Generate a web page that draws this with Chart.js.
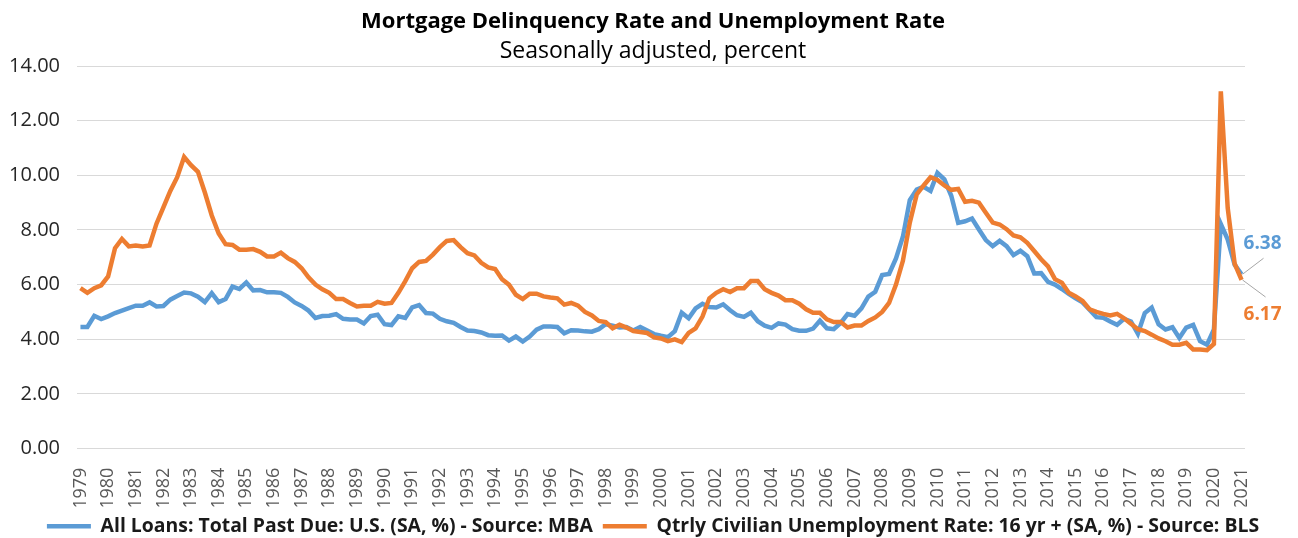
<!DOCTYPE html>
<html>
<head>
<meta charset="utf-8">
<script src="https://cdn.jsdelivr.net/npm/chart.js@4"></script>
<style>
  html, body { margin: 0; padding: 0; background: #fff; }
</style>
</head>
<body>
<canvas id="wykres" width="1298" height="538"></canvas>
<script>
const years = Array.from({ length: 2021 - 1979 + 1 }, (_, i) => 1979 + i);

// All Loans: Total Past Due, MBA (SA, %), quarterly 1979Q1 - 2021Q1
const delinquency = [
  4.45, 4.45, 4.86, 4.74,   // 1979
  4.84, 4.96, 5.05, 5.14,   // 1980
  5.23, 5.23, 5.35, 5.20,   // 1981
  5.22, 5.45, 5.58, 5.71,   // 1982
  5.68, 5.56, 5.36, 5.69,   // 1983
  5.36, 5.47, 5.93, 5.84,   // 1984
  6.08, 5.79, 5.80, 5.72,   // 1985
  5.72, 5.70, 5.55, 5.35,   // 1986
  5.22, 5.05, 4.78, 4.85,   // 1987
  4.86, 4.92, 4.75, 4.72,   // 1988
  4.72, 4.58, 4.85, 4.90,   // 1989
  4.55, 4.52, 4.84, 4.78,   // 1990
  5.17, 5.25, 4.96, 4.94,   // 1991
  4.75, 4.66, 4.60, 4.45,   // 1992
  4.32, 4.30, 4.25, 4.15,   // 1993
  4.13, 4.14, 3.95, 4.10,   // 1994
  3.92, 4.10, 4.35, 4.47,   // 1995
  4.47, 4.45, 4.22, 4.33,   // 1996
  4.32, 4.29, 4.28, 4.37,   // 1997
  4.55, 4.50, 4.43, 4.45,   // 1998
  4.32, 4.45, 4.32, 4.19,   // 1999
  4.13, 4.08, 4.30, 4.97,   // 2000
  4.77, 5.13, 5.30, 5.18,   // 2001
  5.16, 5.28, 5.06, 4.88,   // 2002
  4.82, 4.97, 4.66, 4.50,   // 2003
  4.42, 4.58, 4.54, 4.37,   // 2004
  4.31, 4.31, 4.39, 4.68,   // 2005
  4.40, 4.37, 4.60, 4.92,   // 2006
  4.86, 5.13, 5.56, 5.74,   // 2007
  6.35, 6.39, 6.96, 7.75,   // 2008
  9.09, 9.48, 9.58, 9.43,   // 2009
  10.09, 9.85, 9.25, 8.26,  // 2010
  8.32, 8.42, 8.02, 7.63,   // 2011
  7.41, 7.60, 7.41, 7.08,   // 2012
  7.24, 7.04, 6.41, 6.42,   // 2013
  6.10, 6.00, 5.84, 5.66,   // 2014
  5.50, 5.35, 5.08, 4.81,   // 2015
  4.79, 4.65, 4.53, 4.75,   // 2016
  4.65, 4.20, 4.96, 5.16,   // 2017
  4.55, 4.36, 4.44, 4.05,   // 2018
  4.43, 4.53, 3.93, 3.80,   // 2019
  4.36, 8.22, 7.65, 6.73,   // 2020
  6.38                      // 2021
];

// Qtrly Civilian Unemployment Rate 16 yr +, BLS (SA, %)
const unemployment = [
  5.87, 5.70, 5.87, 5.97,   // 1979
  6.30, 7.33, 7.67, 7.40,   // 1980
  7.43, 7.40, 7.43, 8.23,   // 1981
  8.83, 9.43, 9.93, 10.67,  // 1982
  10.37, 10.13, 9.37, 8.53, // 1983
  7.87, 7.48, 7.45, 7.28,   // 1984
  7.28, 7.30, 7.20, 7.03,   // 1985
  7.03, 7.17, 6.97, 6.83,   // 1986
  6.60, 6.27, 6.00, 5.83,   // 1987
  5.70, 5.47, 5.47, 5.33,   // 1988
  5.20, 5.23, 5.23, 5.37,   // 1989
  5.30, 5.33, 5.70, 6.13,   // 1990
  6.60, 6.83, 6.87, 7.10,   // 1991
  7.37, 7.60, 7.63, 7.37,   // 1992
  7.15, 7.07, 6.80, 6.63,   // 1993
  6.57, 6.20, 6.00, 5.63,   // 1994
  5.47, 5.67, 5.67, 5.57,   // 1995
  5.53, 5.50, 5.27, 5.33,   // 1996
  5.23, 5.00, 4.87, 4.67,   // 1997
  4.63, 4.40, 4.53, 4.43,   // 1998
  4.30, 4.27, 4.23, 4.07,   // 1999
  4.03, 3.93, 4.00, 3.90,   // 2000
  4.23, 4.40, 4.83, 5.50,   // 2001
  5.70, 5.83, 5.73, 5.87,   // 2002
  5.87, 6.13, 6.13, 5.83,   // 2003
  5.70, 5.60, 5.43, 5.43,   // 2004
  5.30, 5.10, 4.97, 4.97,   // 2005
  4.73, 4.63, 4.63, 4.43,   // 2006
  4.50, 4.50, 4.67, 4.80,   // 2007
  5.00, 5.33, 6.00, 6.87,   // 2008
  8.27, 9.30, 9.63, 9.93,   // 2009
  9.83, 9.63, 9.47, 9.50,   // 2010
  9.03, 9.07, 9.00, 8.63,   // 2011
  8.27, 8.20, 8.03, 7.80,   // 2012
  7.73, 7.53, 7.23, 6.93,   // 2013
  6.67, 6.20, 6.07, 5.70,   // 2014
  5.57, 5.40, 5.10, 5.00,   // 2015
  4.93, 4.87, 4.93, 4.77,   // 2016
  4.57, 4.37, 4.30, 4.17,   // 2017
  4.03, 3.93, 3.80, 3.80,   // 2018
  3.87, 3.63, 3.63, 3.60,   // 2019
  3.83, 13.07, 8.80, 6.77,  // 2020
  6.17                      // 2021
];

const yTicks = [0, 2, 4, 6, 8, 10, 12, 14];

// quarter labels, only Q1 shows the year on the axis
const quarters = years.flatMap(y => [1, 2, 3, 4].map(q => `${y} Q${q}`)).slice(0, delinquency.length);

const FONT = '"Open Sans", Lato, sans-serif';
const BLUE = '#5B9BD5';
const ORANGE = '#ED7D31';

// value labels at the last point, with a thin leader line
const endLabels = {
  id: 'endLabels',
  afterDatasetsDraw(chart) {
    const ctx = chart.ctx;
    chart.data.datasets.forEach((ds, i) => {
      const meta = chart.getDatasetMeta(i);
      const pt = meta.data[meta.data.length - 1];
      const o = ds.endLabel;
      ctx.save();
      ctx.strokeStyle = '#a6a6a6';
      ctx.lineWidth = 1;
      ctx.beginPath();
      ctx.moveTo(pt.x + 1, pt.y);
      ctx.lineTo(pt.x + o.lx, pt.y + o.ly);
      ctx.stroke();
      ctx.fillStyle = ds.borderColor;
      ctx.font = 'bold 19px ' + FONT;
      ctx.textAlign = 'center';
      ctx.textBaseline = 'middle';
      ctx.fillText(ds.data[ds.data.length - 1].toFixed(2), pt.x + o.tx, pt.y + o.ty);
      ctx.restore();
    });
  }
};

const ctx = document.getElementById('wykres').getContext('2d');
new Chart(ctx, {
  type: 'line',
  data: {
    labels: quarters,
    datasets: [{
      label: 'All Loans: Total Past Due: U.S. (SA, %) - Source: MBA',
      data: delinquency,
      borderColor: BLUE,
      backgroundColor: BLUE,
      borderWidth: 4.5,
      pointRadius: 0,
      tension: 0,
      order: 2,
      endLabel: { lx: 22, ly: -16, tx: 21, ty: -31 }
    }, {
      label: 'Qtrly Civilian Unemployment Rate: 16 yr + (SA, %) - Source: BLS',
      data: unemployment,
      borderColor: ORANGE,
      backgroundColor: ORANGE,
      borderWidth: 4.5,
      pointRadius: 0,
      tension: 0,
      order: 1,
      endLabel: { lx: 24, ly: 17, tx: 21, ty: 35 }
    }]
  },
  options: {
    responsive: false,
    animation: false,
    layout: { padding: { left: 8, right: 0, top: 0, bottom: -8 } },
    plugins: {
      tooltip: { enabled: false },
      title: {
        display: true,
        text: 'Mortgage Delinquency Rate and Unemployment Rate',
        color: '#000',
        font: { family: FONT, size: 22, weight: 'bold' },
        padding: { top: 9, bottom: 2 }
      },
      subtitle: {
        display: true,
        text: 'Seasonally adjusted, percent',
        color: '#000',
        font: { family: FONT, size: 23, weight: 'normal' },
        padding: { top: 0, bottom: 1 }
      },
      legend: {
        position: 'bottom',
        labels: {
          usePointStyle: true,
          pointStyle: 'line',
          pointStyleWidth: 44,
          boxHeight: 4,
          padding: 10,
          color: '#1a1a1a',
          font: { family: FONT, size: 19.4, weight: 'bold' },
          sort: (a, b) => a.datasetIndex - b.datasetIndex
        }
      }
    },
    scales: {
      x: {
        offset: true,
        afterFit: (scale) => { scale.height = 58; },
        grid: { display: false },
        border: { display: false },
        ticks: {
          autoSkip: false,
          maxRotation: 90,
          minRotation: 90,
          padding: 11,
          color: '#595959',
          font: { family: FONT, size: 18 },
          callback: (v, i) => (i % 4 === 0 ? String(years[i / 4]) : null)
        }
      },
      y: {
        position: 'left',
        min: yTicks[0],
        max: yTicks[yTicks.length - 1],
        afterBuildTicks: (scale) => { scale.ticks = yTicks.map(v => ({ value: v })); },
        afterFit: (scale) => { scale.width = 69; },
        grid: { color: '#d9d9d9', lineWidth: 1, drawTicks: false },
        border: { display: false },
        ticks: {
          padding: 17,
          color: '#262626',
          font: { family: FONT, size: 20 },
          callback: v => v.toFixed(2)
        }
      },
      // empty right axis that keeps room for the end labels
      yR: {
        position: 'right',
        min: 0,
        max: 14,
        afterFit: (scale) => { scale.width = 53; },
        grid: { display: false },
        border: { display: false },
        ticks: { display: false }
      }
    }
  },
  plugins: [endLabels]
});
</script>
</body>
</html>
